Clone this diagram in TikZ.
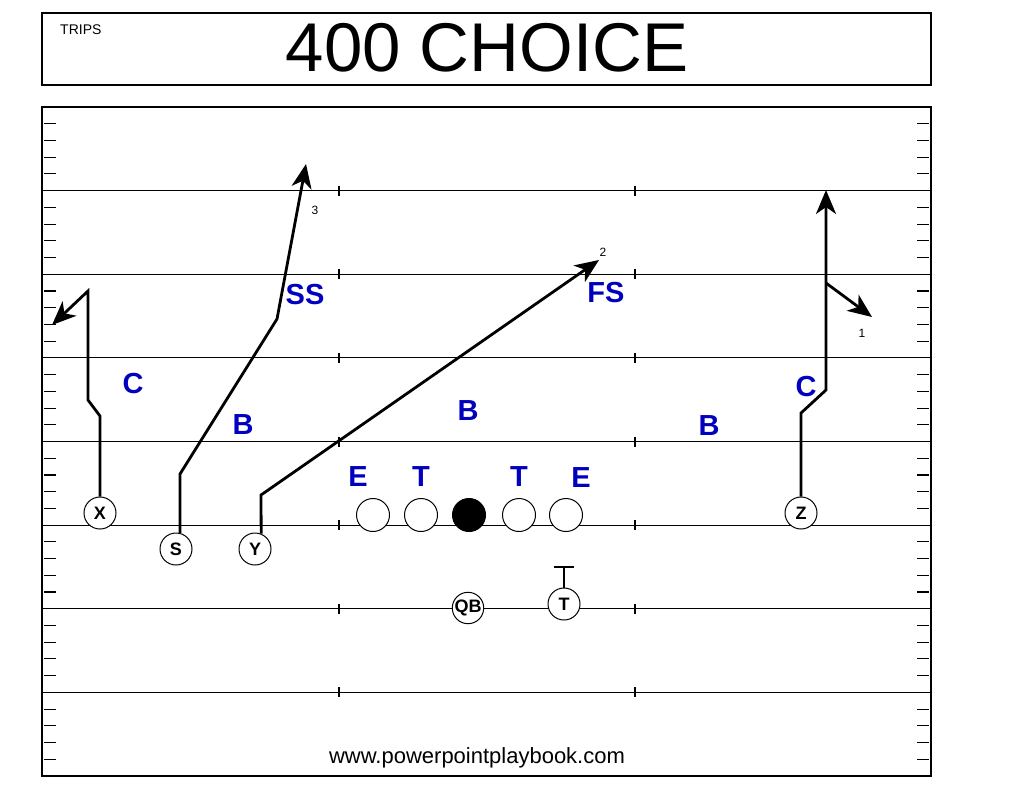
\documentclass[tikz,border=0pt]{standalone}
\usepackage{fontspec}
\setmainfont{Liberation Sans}
\usetikzlibrary{arrows.meta}
\definecolor{defblue}{RGB}{0,0,190}
\begin{document}
\begin{tikzpicture}[x=1pt,y=-1pt,
  player/.style={circle,draw,line width=1pt,minimum size=32pt,inner sep=0pt,fill=white,font=\bfseries\fontsize{18}{18}\selectfont},
  lineman/.style={circle,draw,line width=1pt,minimum size=33pt,inner sep=0pt,fill=white},
  defn/.style={text=defblue,inner sep=0pt,font=\bfseries\fontsize{29}{29}\selectfont},
  yardline/.style={line width=1.2pt},
  hashmark/.style={line width=1.1pt},
  route/.style={line width=2.8pt,line join=miter},
  routearrow/.style={route,-{Stealth[length=24pt,width=20pt,inset=7pt]}},
  routenum/.style={inner sep=0pt,font=\fontsize{12}{12}\selectfont}]
\useasboundingbox (0,0) rectangle (1024,792);
\fill[white] (0,0) rectangle (1024,792);
% title box
\draw[line width=2.6pt] (42,13) rectangle (931,85);
\node[inner sep=0pt,anchor=west,font=\fontsize{14}{14}\selectfont] (trips) at (60,30) {TRIPS};
\node[inner sep=0pt,font=\fontsize{69}{69}\selectfont] (title) at (487,48) {400 CHOICE};
% field
\draw[line width=1.2pt] (42,107) rectangle (931,776);
\foreach \k in {1,...,7}{
  \draw[yardline] (42,107+83.625*\k) -- (931,107+83.625*\k);
  \draw[hashmark] (339,102+83.625*\k) -- (339,112+83.625*\k);
  \draw[hashmark] (635,102+83.625*\k) -- (635,112+83.625*\k);
}
\foreach \j in {1,...,39}{
  \pgfmathtruncatemacro{\r}{mod(\j,5)}
  \ifnum\r>0
    \draw[hashmark] (44,107+16.725*\j) -- (56,107+16.725*\j);
    \draw[hashmark] (917,107+16.725*\j) -- (929,107+16.725*\j);
  \fi
}
% offense
\node[lineman] (lt) at (373,515) {};
\node[lineman] (lg) at (421,515) {};
\node[lineman,fill=black] (c) at (469,515) {};
\node[lineman] (rg) at (519,515) {};
\node[lineman] (rt) at (566,515) {};
\node[player] (X) at (100,513) {X};
\node[player] (S) at (176,549) {S};
\node[player] (Y) at (255,549) {Y};
\node[player] (Z) at (801,513) {Z};
\node[player,minimum size=31pt] (QB) at (468,608) {QB};
\node[player] (T) at (564,604) {T};
% defense
\node[defn] (cl) at (133,384) {C};
\node[defn] (bl) at (243,425) {B};
\node[defn] (ss) at (305,295) {SS};
\node[defn] (fs) at (606,293) {FS};
\node[defn] (bm) at (468,411) {B};
\node[defn] (br) at (709,426) {B};
\node[defn] (cr) at (806,387) {C};
\node[defn] (de1) at (358,477) {E};
\node[defn] (dt1) at (421,477) {T};
\node[defn] (dt2) at (519,477) {T};
\node[defn] (de2) at (581,478) {E};
% route points
\coordinate (x1) at (100,416);
\coordinate (x2) at (88,400);
\coordinate (x3) at (88,291);
\coordinate (x4) at (52,325);
\coordinate (s1) at (180,474);
\coordinate (s2) at (277,319);
\coordinate (s3) at (306,164);
\coordinate (y1) at (261,495);
\coordinate (y2) at (599,260);
\coordinate (z1) at (801,413);
\coordinate (z2) at (826,390);
\coordinate (z3) at (826,283);
\coordinate (z4) at (826,190);
\coordinate (z5) at (872,317);
\coordinate (t1) at (564,567);
% routes
\draw[routearrow] (X.north) -- (x1) -- (x2) -- (x3) -- (x4);
\draw[routearrow] (S.76) -- (s1) -- (s2) -- (s3);
\draw[routearrow] (Y.68) -- (y1) -- (y2);
\draw[routearrow] (Z.north) -- (z1) -- (z2) -- (z4);
\draw[routearrow] (z3) -- (z5);
\draw[route] (T.north) -- (t1);
\draw[route] (554,567) -- (574,567);
\node[routenum] (n3) at (315,210) {3};
\node[routenum] (n2) at (603,252) {2};
\node[routenum] (n1) at (862,333) {1};
% footer
\node[inner sep=0pt,font=\fontsize{22}{22}\selectfont] (web) at (477,758) {www.powerpointplaybook.com};
\end{tikzpicture}
\end{document}
